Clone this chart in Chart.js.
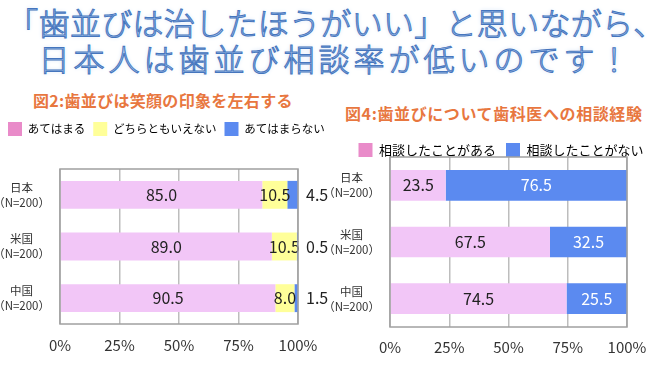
<!DOCTYPE html>
<html>
<head>
<meta charset="utf-8">
<script src="https://cdn.jsdelivr.net/npm/chart.js@4"></script>
<style>
  body { margin: 0; width: 672px; height: 368px; background: #fff; position: relative; overflow: hidden;
         font-family: "Noto Sans CJK JP", "Noto Sans", sans-serif; }
  .headline { position: absolute; left: 0; width: 672px; text-align: center; font-size: 31px; font-weight: 300;
              color: #a8c6ee; -webkit-text-stroke: 1px #4575bd;
              text-shadow: 0 0 2px #fff, 0 0 4px #c9dcf4; white-space: nowrap; line-height: 1; }
  .fig { position: absolute; color: #e8773f; font-weight: 700; font-size: 16px; white-space: nowrap; line-height: 1; }
  .box { position: absolute; }
</style>
</head>
<body>
<div class="headline" style="top:6px;letter-spacing:0.3px;">「歯並びは治したほうがいい」と思いながら、</div>
<div class="headline" style="top:42px;letter-spacing:4px;">日本人は歯並び相談率が低いのです！</div>
<div class="fig" style="left:33px;top:92px;letter-spacing:0.3px;">図2:歯並びは笑顔の印象を左右する</div>
<div class="fig" style="left:345px;top:105px;letter-spacing:0.6px;">図4:歯並びについて歯科医への相談経験</div>

<div class="box" style="left:0;top:114px;width:340px;height:254px;"><canvas id="fig2"></canvas></div>
<div class="box" style="left:330px;top:133px;width:342px;height:235px;"><canvas id="fig4"></canvas></div>

<script>
// Data
const countries = [['日本', '（N=200）'], ['米国', '（N=200）'], ['中国', '（N=200）']];
const xTicks = [0, 25, 50, 75, 100];

// 図2
const fig2Series = ['あてはまる', 'どちらともいえない', 'あてはまらない'];
const fig2Agree = [85.0, 89.0, 90.5];
const fig2Neutral = [10.5, 10.5, 8.0];
const fig2Disagree = [4.5, 0.5, 1.5];

// 図4
const fig4Series = ['相談したことがある', '相談したことがない'];
const fig4Yes = [23.5, 67.5, 74.5];
const fig4No = [76.5, 32.5, 25.5];

const PINK = '#f2c6f7';
const PINK_KEY = '#e98bc9';
const YELLOW = '#ffff99';
const BLUE = '#5b8af0';
const FONT = '"Noto Sans CJK JP", "Noto Sans", sans-serif';

// Draw value labels on the bars
const valueLabels = {
    id: 'valueLabels',
    afterDatasetsDraw(chart, args, opts) {
        const ctx = chart.ctx;
        ctx.save();
        ctx.font = '16px ' + FONT;
        ctx.textBaseline = 'middle';
        chart.data.datasets.forEach((ds, i) => {
            const meta = chart.getDatasetMeta(i);
            meta.data.forEach((bar, j) => {
                const text = ds.data[j].toFixed(1);
                if (opts.outside === i) {
                    ctx.textAlign = 'left';
                    ctx.fillStyle = '#222';
                    ctx.fillText(text, chart.chartArea.right + 8, bar.y);
                } else {
                    ctx.textAlign = 'center';
                    ctx.fillStyle = (opts.white || []).includes(i) ? '#fff' : '#222';
                    ctx.fillText(text, (bar.x + bar.base) / 2, bar.y);
                }
            });
        });
        ctx.restore();
    }
};

// Gray frame round the plot area
const frame = {
    id: 'frame',
    afterDraw(chart) {
        const a = chart.chartArea;
        const ctx = chart.ctx;
        ctx.save();
        ctx.strokeStyle = '#a0a0a0';
        ctx.lineWidth = 1.5;
        ctx.strokeRect(a.left, a.top, a.right - a.left, a.bottom - a.top);
        ctx.restore();
    }
};

// Adjust the space under the legend (the legend clips to its box, so draw with the full height)
const legendGap = {
    id: 'legendGap',
    beforeInit(chart, args, opts) {
        const legend = chart.legend;
        const fit = legend.fit;
        const draw = legend.draw;
        legend.fit = function() {
            fit.call(this);
            this.fullHeight = this.height;
            this.height += opts.extra || 0;
        };
        legend.draw = function() {
            const h = this.height;
            this.height = Math.max(h, this.fullHeight || h);
            draw.call(this);
            this.height = h;
        };
    }
};

function makeOptions(axisWidth, rightGap, bottomPad, tickPad, legendKeys, outside, white) {
    return {
        indexAxis: 'y',
        responsive: true,
        maintainAspectRatio: false,
        animation: false,
        layout: { padding: { top: 0, right: 0, bottom: bottomPad } },
        datasets: { bar: { barPercentage: 1, categoryPercentage: 0.54 } },
        scales: {
            x: {
                stacked: true,
                min: 0, max: 100,
                afterBuildTicks: scale => { scale.ticks = xTicks.map(v => ({ value: v })); },
                ticks: { callback: v => v + '%', color: '#333', font: { size: 15, family: FONT }, padding: tickPad, maxRotation: 0 },
                grid: { color: '#bdbdbd', lineWidth: 1.5, drawTicks: false },
                border: { display: false }
            },
            y: {
                stacked: true,
                afterFit: scale => { scale.width = axisWidth; },
                ticks: { color: '#333', font: { size: 11.5, family: FONT, lineHeight: 1.3 }, padding: 2, crossAlign: 'center' },
                grid: { display: false },
                border: { display: false }
            },
            // empty axis that keeps room on the right of the plot
            gap: {
                axis: 'y',
                position: 'right',
                afterFit: scale => { scale.width = rightGap; },
                ticks: { display: false },
                grid: { display: false },
                border: { display: false }
            }
        },
        plugins: {
            legend: {
                position: 'top',
                align: legendKeys.align,
                labels: {
                    boxWidth: 14, boxHeight: 14, padding: legendKeys.padding,
                    color: '#333', font: { size: legendKeys.size, family: FONT },
                    generateLabels: chart => chart.data.datasets.map((ds, i) => ({
                        text: ds.label, fillStyle: legendKeys.colors[i], strokeStyle: legendKeys.colors[i],
                        lineWidth: 0, datasetIndex: i
                    }))
                }
            },
            legendGap: { extra: legendKeys.extra },
            tooltip: { enabled: false },
            valueLabels: { outside: outside, white: white }
        }
    };
}

new Chart(document.getElementById('fig2'), {
    type: 'bar',
    data: {
        labels: countries,
        datasets: [
            { label: fig2Series[0], data: fig2Agree, backgroundColor: PINK },
            { label: fig2Series[1], data: fig2Neutral, backgroundColor: YELLOW },
            { label: fig2Series[2], data: fig2Disagree, backgroundColor: BLUE }
        ]
    },
    options: makeOptions(60, 42, 2, 12, { align: 'start', size: 11.5, padding: 8, extra: 23, colors: [PINK_KEY, YELLOW, BLUE] }, 2, []),
    plugins: [legendGap, valueLabels, frame]
});

new Chart(document.getElementById('fig4'), {
    type: 'bar',
    data: {
        labels: countries,
        datasets: [
            { label: fig4Series[0], data: fig4Yes, backgroundColor: PINK },
            { label: fig4Series[1], data: fig4No, backgroundColor: BLUE }
        ]
    },
    options: makeOptions(60, 45, 1, 11, { align: 'center', size: 13, padding: 10, extra: -10, colors: [PINK_KEY, BLUE] }, -1, [1]),
    plugins: [legendGap, valueLabels, frame]
});
</script>
</body>
</html>
